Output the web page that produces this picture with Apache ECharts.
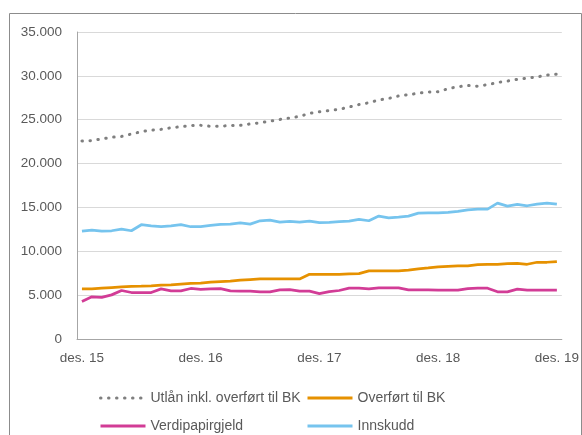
<!DOCTYPE html>
<html>
<head>
<meta charset="utf-8">
<script src="https://cdn.jsdelivr.net/npm/echarts@6/dist/echarts.min.js"></script>
<style>
  html, body { margin: 0; padding: 0; background: #fff; }
  #main { width: 582px; height: 435px; }
</style>
</head>
<body>
<div id="main"></div>
<script>
// månedlige tall, des. 15 - des. 19 (49 måneder)
var months = [];
var years = ['15', '16', '17', '18', '19'];
for (var y = 0; y < years.length; y++) {
  var n = (y === years.length - 1) ? 1 : 12;
  for (var m = 0; m < n; m++) {
    months.push(m === 0 ? 'des. ' + years[y] : years[y] + '-' + m);
  }
}

var utlan = [22570, 22620, 22810, 23000, 23100, 23370, 23640, 23810, 23900, 24080, 24210, 24340,
  24360, 24250, 24260, 24340, 24360, 24520, 24650, 24840, 25030, 25200, 25380, 25720,
  25900, 26040, 26180, 26450, 26730, 26930, 27250, 27430, 27710, 27850, 28020, 28160,
  28190, 28540, 28760, 28900, 28820, 29000, 29240, 29410, 29600, 29730, 29880, 30080,
  30200];

var overfort = [5710, 5710, 5790, 5870, 5940, 5990, 6020, 6060, 6130, 6170, 6250, 6330,
  6380, 6480, 6550, 6590, 6700, 6780, 6850, 6850, 6850, 6850, 6850, 7380,
  7380, 7380, 7380, 7420, 7460, 7760, 7760, 7760, 7760, 7840, 7990, 8100,
  8220, 8290, 8330, 8330, 8480, 8520, 8520, 8600, 8630, 8520, 8750, 8750,
  8820];

var verdipapir = [4280, 4810, 4740, 5030, 5530, 5300, 5300, 5300, 5710, 5490, 5490, 5760,
  5660, 5720, 5750, 5490, 5450, 5450, 5380, 5380, 5600, 5640, 5450, 5450,
  5170, 5410, 5530, 5790, 5790, 5720, 5830, 5830, 5830, 5600, 5600, 5600,
  5560, 5570, 5570, 5750, 5790, 5790, 5380, 5380, 5680, 5570, 5570, 5570,
  5570];

var innskudd = [12300, 12420, 12300, 12340, 12530, 12340, 13030, 12910, 12800, 12910, 13030, 12800,
  12820, 12950, 13060, 13100, 13250, 13100, 13480, 13560, 13330, 13400, 13330, 13440,
  13260, 13290, 13370, 13440, 13630, 13480, 14010, 13820, 13900, 14010, 14350, 14390,
  14390, 14430, 14540, 14730, 14810, 14810, 15490, 15150, 15340, 15190, 15370, 15490,
  15370];

var font = 'Liberation Sans';
var grey = '#595959';

function tusen(v) {
  return String(v).replace(/\B(?=(\d{3})+(?!\d))/g, '.');
}

// en legend per element, plassert i to kolonner
function legendItem(name, left, top) {
  return {
    left: left,
    top: top,
    itemWidth: 45,
    itemHeight: 14,
    itemStyle: { opacity: 0 },
    lineStyle: { width: 3 },
    textStyle: { color: grey, fontSize: 14, lineHeight: 14, fontFamily: font },
    data: [name]
  };
}

var chart = echarts.init(document.getElementById('main'));

chart.setOption({
  animation: false,
  textStyle: { fontFamily: font },
  graphic: [{
    type: 'rect',
    shape: { x: 9.5, y: 13.5, width: 572, height: 440 },
    style: { fill: 'none', stroke: '#8c8c8c', lineWidth: 1 },
    silent: true
  }],
  grid: { left: 77, right: 18, top: 32, bottom: 96 },
  xAxis: {
    type: 'category',
    data: months,
    boundaryGap: true,
    axisLine: { lineStyle: { color: '#a6a6a6', width: 1 } },
    axisTick: { interval: 11, length: 5, lineStyle: { color: '#a6a6a6' } },
    axisLabel: {
      interval: 11,
      color: grey,
      fontSize: 13.5,
      margin: 12
    },
    splitLine: { show: false }
  },
  yAxis: {
    type: 'value',
    min: 0,
    max: 35000,
    interval: 5000,
    axisLine: { show: true, lineStyle: { color: '#a6a6a6', width: 1 } },
    axisTick: { show: false },
    axisLabel: { color: grey, fontSize: 13.5, margin: 15, formatter: tusen },
    splitLine: { lineStyle: { color: '#d9d9d9', width: 1 } }
  },
  legend: [
    legendItem('Utlån inkl. overført til BK', 94, 386),
    legendItem('Verdipapirgjeld', 94, 414),
    legendItem('Overført til BK', 301, 386),
    legendItem('Innskudd', 301, 414)
  ],
  series: [{
    name: 'Utlån inkl. overført til BK',
    type: 'line',
    data: utlan,
    symbol: 'none',
    lineStyle: { color: '#7f7f7f', width: 3, type: [0.5, 7.5], cap: 'round' },
    itemStyle: { color: '#7f7f7f' }
  }, {
    name: 'Overført til BK',
    type: 'line',
    data: overfort,
    symbol: 'none',
    lineStyle: { color: '#e69100', width: 2.75 },
    itemStyle: { color: '#e69100' }
  }, {
    name: 'Verdipapirgjeld',
    type: 'line',
    data: verdipapir,
    symbol: 'none',
    lineStyle: { color: '#d23c96', width: 2.75 },
    itemStyle: { color: '#d23c96' }
  }, {
    name: 'Innskudd',
    type: 'line',
    data: innskudd,
    symbol: 'none',
    lineStyle: { color: '#76c4ee', width: 2.75 },
    itemStyle: { color: '#76c4ee' }
  }]
});
</script>
</body>
</html>
